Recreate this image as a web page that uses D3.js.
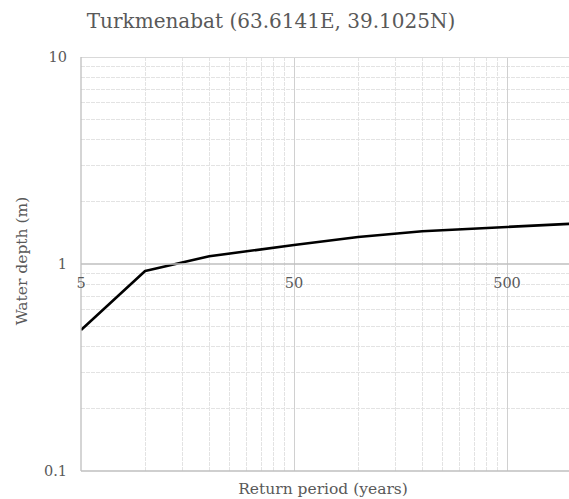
<!DOCTYPE html>
<html><head><meta charset="utf-8">
<script src="https://cdn.jsdelivr.net/npm/d3@7"></script>
<style>
html,body{margin:0;padding:0;background:#fff;}
svg{display:block;}
</style></head>
<body>
<svg id="chart" width="569" height="499"></svg>
<script>
const title = "Turkmenabat (63.6141E, 39.1025N)";
const xTitle = "Return period (years)";
const yTitle = "Water depth (m)";
const returnPeriods = [5, 10, 20, 50, 100, 200, 500, 1000];
const waterDepth = [0.48, 0.925, 1.09, 1.235, 1.35, 1.44, 1.51, 1.565];
const xMajorTicks = [5, 50, 500];
const yMajorTicks = [0.1, 1, 10];
const xTickLabels = ["5", "50", "500"];
const yTickLabels = ["0.1", "1", "10"];

(function () {
const svg = d3.select("#chart");
const pL = 81, pT = 57, pB = 471, pR = 569;
const decX = 213;
const x = d3.scaleLog().domain([5, 5000]).range([pL, pL + 3 * decX]);
const y = d3.scaleLog().domain([0.1, 10]).range([pB, pT]);

const xMinor = [];
[5, 50, 500].forEach(b => { for (let k = 2; k <= 9; k++) xMinor.push(b * k); });
const yMinor = [];
[0.1, 1].forEach(b => { for (let k = 2; k <= 9; k++) yMinor.push(b * k); });

svg.append("defs").append("clipPath").attr("id", "clip")
  .append("rect").attr("x", pL).attr("y", pT - 2).attr("width", pR - pL).attr("height", pB - pT + 4);

const g = svg.append("g").attr("clip-path", "url(#clip)");
const font = "'DejaVu Serif', serif";

g.selectAll(".xminor").data(xMinor.filter(v => x(v) <= pR)).enter().append("line")
  .attr("x1", d => x(d)).attr("x2", d => x(d)).attr("y1", pT).attr("y2", pB)
  .attr("stroke", "#e3e3e3").attr("stroke-width", 1).attr("stroke-dasharray", "4,1").attr("shape-rendering", "crispEdges");
g.selectAll(".yminor").data(yMinor).enter().append("line")
  .attr("x1", pL).attr("x2", pR).attr("y1", d => y(d)).attr("y2", d => y(d))
  .attr("stroke", "#e3e3e3").attr("stroke-width", 1).attr("stroke-dasharray", "4,1").attr("shape-rendering", "crispEdges");
g.selectAll(".xmajor").data(xMajorTicks.slice(1)).enter().append("line")
  .attr("x1", d => x(d)).attr("x2", d => x(d)).attr("y1", pT).attr("y2", pB)
  .attr("stroke", "#d0d0d0").attr("stroke-width", 1).attr("shape-rendering", "crispEdges");
g.selectAll(".ymajor").data([10]).enter().append("line")
  .attr("x1", pL).attr("x2", pR).attr("y1", d => y(d)).attr("y2", d => y(d))
  .attr("stroke", "#d9d9d9").attr("stroke-width", 1).attr("shape-rendering", "crispEdges");

svg.append("line").attr("x1", pL).attr("x2", pL).attr("y1", pT).attr("y2", pB)
  .attr("stroke", "#bfbfbf").attr("stroke-width", 1.3);
svg.append("line").attr("x1", pL).attr("x2", pR).attr("y1", y(0.1)).attr("y2", y(0.1))
  .attr("stroke", "#bfbfbf").attr("stroke-width", 1.3);
svg.append("line").attr("x1", pL).attr("x2", pR).attr("y1", y(1)).attr("y2", y(1))
  .attr("stroke", "#bfbfbf").attr("stroke-width", 1.3);

const line = d3.line().x((d, i) => x(returnPeriods[i])).y(d => y(d));
g.append("path").datum(waterDepth).attr("d", line)
  .attr("fill", "none").attr("stroke", "#000").attr("stroke-width", 2.6).attr("stroke-linejoin", "round");

svg.selectAll(".ytl").data(yMajorTicks).enter().append("text")
  .attr("x", pL - 14).attr("y", d => y(d)).attr("dy", "0.35em")
  .attr("text-anchor", "end").attr("font-family", font).attr("font-size", 14.5).attr("fill", "#595959")
  .text((d, i) => yTickLabels[i]);
svg.selectAll(".xtl").data(xMajorTicks).enter().append("text")
  .attr("x", d => x(d)).attr("y", y(1) + 24)
  .attr("text-anchor", "middle").attr("font-family", font).attr("font-size", 14.5).attr("fill", "#595959")
  .text((d, i) => xTickLabels[i]);

svg.append("text").attr("x", 271).attr("y", 28).attr("text-anchor", "middle")
  .attr("font-family", font).attr("font-size", 20).attr("fill", "#595959").text(title);
svg.append("text").attr("x", 323).attr("y", 494).attr("text-anchor", "middle")
  .attr("font-family", font).attr("font-size", 15.5).attr("fill", "#595959").text(xTitle);
svg.append("text").attr("transform", `translate(27,261) rotate(-90)`).attr("text-anchor", "middle")
  .attr("font-family", font).attr("font-size", 15.5).attr("fill", "#595959").text(yTitle);
})();
</script>
</body></html>
